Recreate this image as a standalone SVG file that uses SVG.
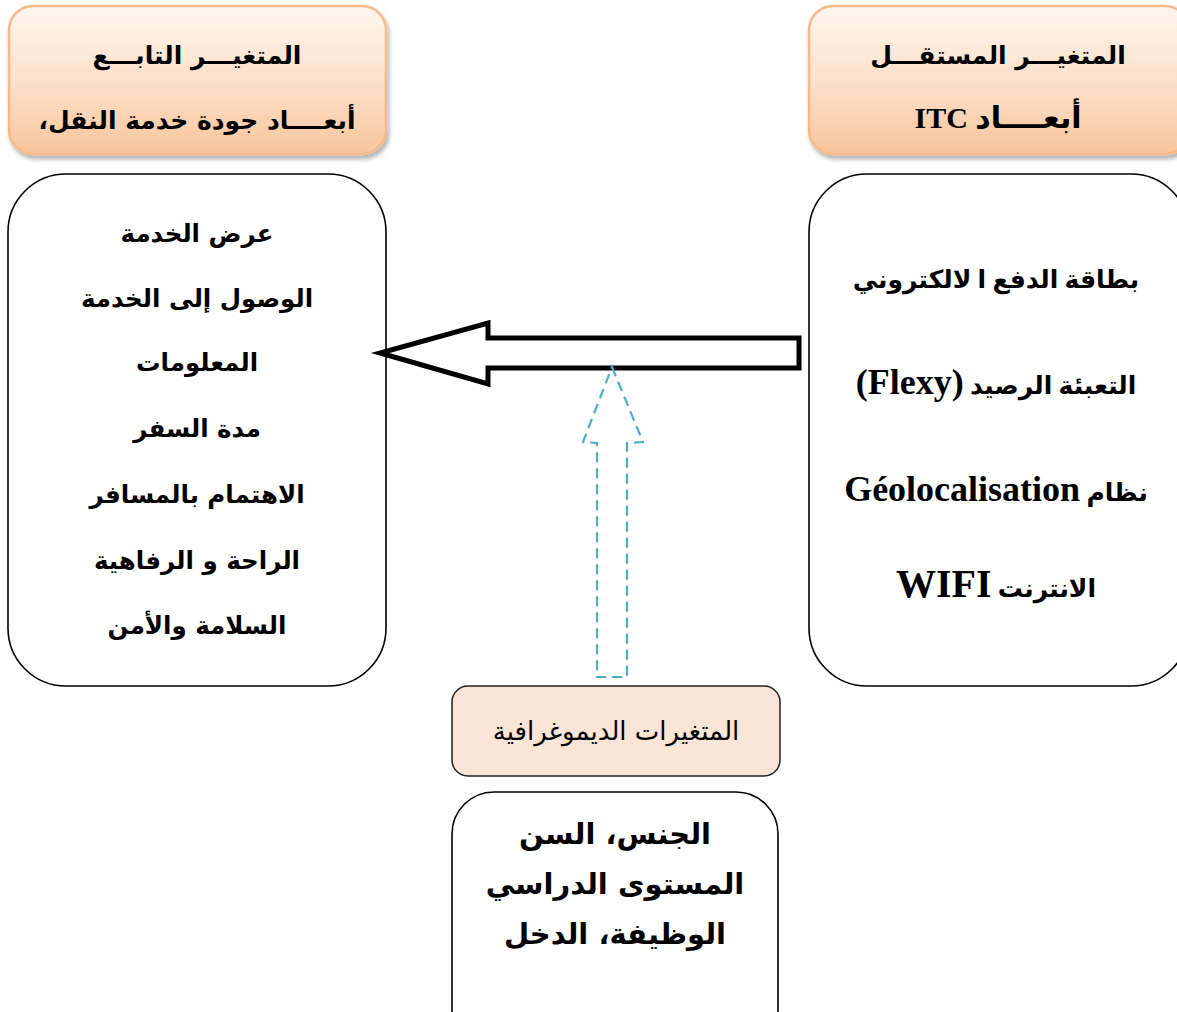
<svg xmlns="http://www.w3.org/2000/svg" width="1177" height="1012" viewBox="0 0 1177 1012">
<style>
.hdr{fill:url(#peach);stroke:#f6b98c;stroke-width:2.5}
.box{fill:#fff;stroke:#000;stroke-width:1.6}
.ar{font-family:"DejaVu Sans","Noto Sans",sans-serif;font-size:24.5px;font-weight:bold;fill:#000;text-anchor:middle;direction:rtl}
.arh{font-family:"DejaVu Sans","Noto Sans",sans-serif;font-size:25px;font-weight:bold;fill:#000;text-anchor:middle;direction:rtl}
.mix{font-family:"Liberation Serif","DejaVu Sans",serif;font-size:25px;font-weight:bold;fill:#000;text-anchor:middle;direction:rtl}
.demo{font-family:"DejaVu Sans","Liberation Sans",sans-serif;font-size:29px;font-weight:bold;fill:#000;text-anchor:middle;direction:rtl}
</style>
<defs>
<linearGradient id="peach" x1="0" y1="0" x2="0" y2="1">
<stop offset="0" stop-color="#fff6ef"/>
<stop offset="0.6" stop-color="#fcdcc3"/>
<stop offset="1" stop-color="#f8c59c"/>
</linearGradient>
<filter id="sh" x="-10%" y="-10%" width="120%" height="130%">
<feDropShadow dx="2" dy="4" stdDeviation="2" flood-color="#000" flood-opacity="0.3"/>
</filter>
</defs>
<rect width="1177" height="1012" fill="#fff"/>

<g id="dep-header">
<rect class="hdr" x="9" y="6" width="377" height="148" rx="24" filter="url(#sh)"/>
<text class="arh" x="197" y="64">المتغيـــر التابـــع</text>
<text class="arh" x="197" y="129">أبعــــاد جودة خدمة النقل،</text>
</g>

<g id="ind-header">
<rect class="hdr" x="809" y="6" width="380" height="148" rx="24" filter="url(#sh)"/>
<text class="arh" x="998" y="64">المتغيـــر المستقـــل</text>
<text class="mix" x="998" y="128"><tspan font-size="30">أبعــــاد ITC</tspan></text>
</g>

<g id="dep-box">
<rect class="box" x="8" y="174" width="378" height="512" rx="58"/>
<text class="ar" x="197" y="242">عرض الخدمة</text>
<text class="ar" x="197" y="307">الوصول إلى الخدمة</text>
<text class="ar" x="197" y="371">المعلومات</text>
<text class="ar" x="197" y="437">مدة السفر</text>
<text class="ar" x="197" y="503">الاهتمام بالمسافر</text>
<text class="ar" x="197" y="569">الراحة و الرفاهية</text>
<text class="ar" x="197" y="634">السلامة والأمن</text>
</g>

<g id="ind-box">
<rect class="box" x="809" y="174" width="380" height="512" rx="58"/>
<text class="mix" x="996" y="288">بطاقة الدفع ا لالكتروني</text>
<text class="mix" x="996" y="394">التعبئة الرصيد <tspan font-size="36">(Flexy)</tspan></text>
<text class="mix" x="996" y="501">نظام <tspan font-size="36">Géolocalisation</tspan></text>
<text class="mix" x="996" y="597">الانترنت <tspan font-size="40">WIFI</tspan></text>
</g>

<g id="demo-header">
<rect x="452" y="686" width="328" height="90" rx="16" fill="#fbe5d6" stroke="#222" stroke-width="1.5"/>
<text class="ar" x="616" y="740" style="font-weight:normal;font-size:26px">المتغيرات الديموغرافية</text>
</g>

<g id="demo-box">
<rect class="box" x="452" y="792" width="326" height="260" rx="42"/>
<text class="demo" x="615" y="844">الجنس، السن</text>
<text class="demo" x="615" y="894">المستوى الدراسي</text>
<text class="demo" x="615" y="944">الوظيفة، الدخل</text>
</g>

<g id="connectors">
<polygon points="799,338 488,338 488,323 380,353 488,384 488,368 799,368" fill="#fff" stroke="#000" stroke-width="5" stroke-linejoin="miter"/>
<polygon points="612,367 643,442 627,443 627,677 597,677 597,443 583,442" fill="none" stroke="#4bacc6" stroke-width="2.2" stroke-dasharray="10,6"/>
</g>
</svg>
